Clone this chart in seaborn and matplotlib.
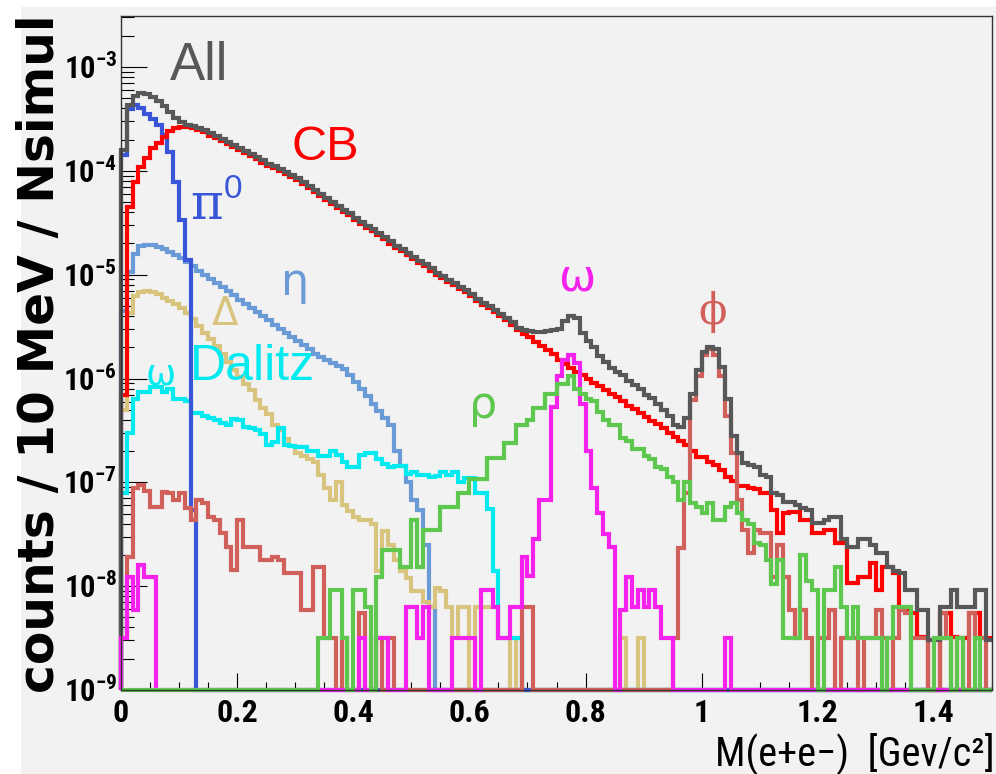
import numpy as np
import pandas as pd
import matplotlib
matplotlib.use("Agg")
import matplotlib.pyplot as plt
import seaborn as sns
from matplotlib import font_manager as fm
from matplotlib.ticker import LogLocator, MultipleLocator, NullFormatter
from matplotlib.patches import Rectangle

N = np.nan
BIN_WIDTH = 0.01
N_BINS = 150
X_MAX = 1.5
Y_MIN, Y_MAX = 1e-9, 3.1e-3

# ---- data: log10(counts / 10 MeV / Nsimul) per 10 MeV bin, NaN = empty bin ----
all_start = 0
all_log = [
    -3.80, -3.37, -3.28, -3.25, -3.26, -3.29, -3.33, -3.38, -3.43, -3.49,
    -3.53, -3.56, -3.57, -3.59, -3.61, -3.64, -3.66, -3.69, -3.72, -3.75,
    -3.78, -3.81, -3.84, -3.87, -3.90, -3.93, -3.95, -3.98, -4.01, -4.04,
    -4.07, -4.11, -4.15, -4.18, -4.22, -4.26, -4.30, -4.34, -4.38, -4.41,
    -4.45, -4.49, -4.53, -4.56, -4.60, -4.64, -4.68, -4.72, -4.75, -4.79,
    -4.83, -4.87, -4.90, -4.94, -4.98, -5.01, -5.05, -5.08, -5.12, -5.15,
    -5.19, -5.23, -5.27, -5.30, -5.34, -5.38, -5.42, -5.46, -5.51, -5.53,
    -5.54, -5.55, -5.55, -5.54, -5.53, -5.52, -5.45, -5.40, -5.42, -5.56,
    -5.64, -5.70, -5.78, -5.84, -5.90, -5.94, -5.97, -6.02, -6.06, -6.10,
    -6.16, -6.19, -6.25, -6.30, -6.36, -6.45, -6.47, -6.38, -6.15, -5.92,
    -5.74, -5.70, -5.72, -5.89, -6.20, -6.55, -6.72, -6.81, -6.83, -6.85,
    -6.93, -6.95, -7.10, -7.12, -7.19, -7.19, -7.22, -7.25, -7.27, -7.39,
    -7.39, -7.36, -7.33, -7.33, -7.55, -7.62, -7.62, -7.55, -7.55, -7.60,
    -7.68, -7.68, -7.82, -7.85, -7.87, -8.04, -8.04, -8.23, -8.23, -8.52,
    -8.52, -8.20, -8.20, -8.04, -8.20, -8.20, -8.20, -8.04, -8.04, -8.52,
]
cb_start = 0
cb_log = [
    -6.16, -4.35, -4.11, -3.96, -3.88, -3.78, -3.73, -3.67, -3.62, -3.59,
    -3.58, -3.58, -3.59, -3.61, -3.63, -3.66, -3.68, -3.71, -3.74, -3.77,
    -3.80, -3.83, -3.86, -3.89, -3.92, -3.95, -3.97, -4.00, -4.03, -4.06,
    -4.09, -4.13, -4.17, -4.20, -4.24, -4.28, -4.32, -4.36, -4.40, -4.43,
    -4.47, -4.51, -4.55, -4.58, -4.62, -4.66, -4.70, -4.74, -4.77, -4.81,
    -4.85, -4.89, -4.92, -4.96, -5.00, -5.03, -5.07, -5.10, -5.14, -5.17,
    -5.21, -5.25, -5.29, -5.32, -5.36, -5.40, -5.44, -5.48, -5.53, -5.57,
    -5.60, -5.65, -5.69, -5.73, -5.76, -5.82, -5.86, -5.90, -5.94, -5.97,
    -6.00, -6.04, -6.07, -6.11, -6.15, -6.18, -6.22, -6.26, -6.29, -6.33,
    -6.37, -6.41, -6.44, -6.48, -6.52, -6.56, -6.60, -6.64, -6.70, -6.76,
    -6.76, -6.80, -6.83, -6.88, -6.95, -6.99, -7.04, -7.04, -7.05, -7.06,
    -7.10, -7.10, -7.27, -7.49, -7.30, -7.29, -7.29, -7.36, -7.36, -7.49,
    -7.49, -7.46, -7.46, -7.58, -7.58, -7.97, -7.97, -7.91, -7.91, -7.78,
    -8.04, -7.82, -7.82, -7.87, -8.23, -8.23, -8.26, -8.49, -8.49, N,
    N, -8.26, -8.26, -8.49, -8.50, -8.50, -8.26, -8.26, -8.50, -8.50,
]
pi0_start = 0
pi0_log = [-3.85, -3.40, -3.37, -3.39, -3.45, -3.50, -3.56, -3.65, -3.82, -4.11,
           -4.47, -4.86, -7.27]
eta_start = 0
eta_log = [
    -5.35, -4.97, -4.80, -4.72, -4.71, -4.71, -4.73, -4.75, -4.78, -4.81,
    -4.84, -4.88, -4.92, -4.96, -5.00, -5.04, -5.08, -5.12, -5.16, -5.20,
    -5.24, -5.28, -5.32, -5.36, -5.40, -5.44, -5.48, -5.52, -5.56, -5.60,
    -5.64, -5.68, -5.72, -5.76, -5.79, -5.82, -5.85, -5.88, -5.91, -5.97,
    -6.03, -6.10, -6.17, -6.25, -6.31, -6.38, -6.45, -6.70, -6.84, -7.00,
    -7.17, -7.27, -7.60, -8.20,
]
delta_start = 0
delta_log = [
    -6.30, -5.37, -5.21, -5.17, -5.16, -5.17, -5.19, -5.22, -5.25, -5.28,
    -5.32, -5.37, -5.43, -5.49, -5.56, -5.62, -5.69, -5.76, -5.84, -5.92,
    -5.99, -6.05, -6.11, -6.21, -6.28, -6.34, -6.45, -6.50, -6.58, -6.65,
    -6.72, -6.75, -6.78, -6.80, -6.93, -7.05, -7.17, -7.00, -7.22, -7.28,
    -7.33, -7.36, -7.36, -7.40, -7.85, -7.47, -7.60, -7.75, -7.85, -7.92,
    -8.05, -8.05, -8.15, -8.20, -8.02, -8.05, -8.20, -8.50, -8.20, -8.20,
    N, -8.20, -8.20, -8.20, -8.20, -8.50, -8.50, N, -8.50, N,
    N, N, N, N, N, N, N, N, N, N,
    N, N, N, N, N, N, -8.50, N, N, -8.50,
]
omega_dalitz_start = 0
omega_dalitz_log = [
    -7.10, -6.52, -6.20, -6.13, -6.13, -6.08, -6.08, -6.13, -6.10, -6.20,
    -6.20, -6.22, -6.33, -6.33, -6.36, -6.38, -6.40, -6.43, -6.45, -6.39,
    -6.40, -6.47, -6.48, -6.50, -6.53, -6.64, -6.61, -6.48, -6.64, -6.65,
    -6.66, -6.66, -6.70, -6.70, -6.75, -6.75, -6.70, -6.74, -6.80, -6.85,
    -6.85, -6.74, -6.72, -6.72, -6.78, -6.82, -6.85, -6.84, -6.84, -6.92,
    -6.90, -6.93, -6.93, -6.95, -6.94, -6.90, -6.93, -6.90, -7.00, -6.96,
    -6.96, -7.10, -7.10, -7.26, -7.85, -8.50, -8.50, -8.50, -8.50,
]
phi_start = 0
phi_log = [
    -8.50, -7.72, -7.05, -7.03, -7.08, -7.24, -7.24, -7.09, -7.10, -7.17,
    -7.10, -7.25, -7.36, -7.17, -7.20, -7.33, -7.36, -7.49, -7.62, -7.84,
    -7.36, -7.62, -7.62, -7.62, -7.75, -7.75, -7.72, -7.75, -7.87, -7.87,
    -7.87, -8.23, -8.23, -7.82, -7.82, -8.50, -8.50, N, -8.50, N,
    N, -8.26, N, N, -8.50, N, -8.50, N, N, N,
    N, N, N, N, N, N, N, N, N, N,
    N, N, N, N, N, N, N, N, N, -8.20,
    -8.20, N, N, N, N, N, N, N, N, N,
    N, N, N, N, N, N, N, N, N, N,
    N, N, N, N, N, -8.50, -7.63, -7.10, -6.21, -5.98,
    -5.77, -5.72, -5.77, -5.98, -6.36, -6.72, -7.17, -7.46, -7.68, -7.46,
    -7.49, -7.49, -7.91, -7.60, -7.91, -8.23, -8.50, -8.23, -8.50, N,
    -8.50, -8.50, -8.23, N, -8.50, -8.50, -8.50, N, -8.50, -8.50,
    -8.23, -8.50, N, -8.50, -8.23, -8.26, -8.50, -8.50, -8.50, N,
    N, -8.26, -8.50, N, -8.50, N, -8.26, -8.50, -8.50, N,
]
omega_start = 0
omega_log = [
    -8.50, -7.91, -8.23, -7.80, -7.91, -7.91, N, N, N, N,
    N, N, N, N, N, N, N, N, N, N,
    N, N, N, N, N, N, N, N, N, N,
    N, N, N, N, N, N, N, N, N, N,
    N, -8.50, N, N, -8.50, -8.50, N, N, N, -8.20,
    -8.20, -8.50, -8.20, N, N, N, N, -8.50, -8.50, -8.50,
    -8.50, N, -8.04, -8.04, -8.20, -8.50, -8.50, -8.20, -8.20, -7.72,
    -7.90, -7.55, -7.17, -7.17, -6.27, -5.98, -5.82, -5.77, -5.85, -6.25,
    -6.70, -7.05, -7.30, -7.50, -7.62, N, -8.23, -7.91, -8.20, -8.04,
    -8.20, -8.04, -8.20, -8.50, -8.50, N, N, N, N, N,
    N, N, N, N, -8.50,
]
rho_start = 34
rho_log = [
    -8.50, -8.50, -8.04, -8.04, -8.50, N,
    -8.04, -8.04, -8.20, N, -7.91, -7.65, -7.65, -7.65, -7.82, -7.82,
    -7.36, -7.82, -7.46, -7.46, -7.46, -7.24, -7.24, -7.24, -7.10, -7.10,
    -6.97, -6.97, -6.97, -6.77, -6.77, -6.77, -6.62, -6.62, -6.45, -6.45,
    -6.40, -6.28, -6.28, -6.15, -6.15, -6.05, -6.05, -5.98, -6.10, -6.15,
    -6.20, -6.22, -6.32, -6.40, -6.45, -6.45, -6.57, -6.60, -6.68, -6.68,
    -6.75, -6.78, -6.85, -6.87, -6.95, -7.00, -7.17, -7.00, -7.20, -7.24,
    -7.30, -7.20, -7.36, -7.36, -7.24, -7.20, -7.30, -7.36, -7.40, -7.58,
    -7.60, -7.75, -7.98, -7.75, -8.50, -8.50, -8.50, -7.70, -7.95, -8.04,
    N, -8.04, -8.04, -7.82, -8.20, -8.50, -8.20, -8.50, -8.50, -8.50,
    -8.50, N, -8.50, -8.20, -8.20, -8.20, N, N, N, N,
    -8.50, -8.50, -8.50, N, -8.50, N, N, -8.50, N, N,
]

series = {
    "eta": (eta_start, eta_log),
    "Delta": (delta_start, delta_log),
    "omega Dalitz": (omega_dalitz_start, omega_dalitz_log),
    "pi0": (pi0_start, pi0_log),
    "CB": (cb_start, cb_log),
    "phi": (phi_start, phi_log),
    "All": (all_start, all_log),
    "omega": (omega_start, omega_log),
    "rho": (rho_start, rho_log),
}
colors = {
    "All": "#585858",
    "CB": "#ff0000",
    "pi0": "#3a56d8",
    "eta": "#6b9bd6",
    "Delta": "#d8c47e",
    "omega Dalitz": "#00eaf0",
    "phi": "#d2605a",
    "omega": "#f522ee",
    "rho": "#5ec84e",
}
draw_order = list(series.keys())

# ---- fonts ----
def pick(fams):
    for f in fams:
        try:
            fm.findfont(fm.FontProperties(family=f), fallback_to_default=False)
            return f
        except Exception:
            pass
    return "DejaVu Sans"

narrow = pick(["Liberation Sans Narrow", "Roboto Condensed", "Liberation Sans"])
sans = pick(["Liberation Sans", "Arial", "DejaVu Sans"])
serif = pick(["DejaVu Serif", "Liberation Serif"])

plt.rcParams["mathtext.fontset"] = "custom"
plt.rcParams["mathtext.rm"] = narrow
plt.rcParams["mathtext.bf"] = narrow + ":bold"
plt.rcParams["font.family"] = [sans, "DejaVu Sans"]

# ---- long-form table of step histograms ----
edges = np.arange(N_BINS + 1) * BIN_WIDTH
rows = []
for name, (start, vals) in series.items():
    arr = np.full(N_BINS, np.nan)
    arr[start:start + len(vals)] = vals
    y = np.where(np.isnan(arr), Y_MIN, 10.0 ** arr)
    xs = np.concatenate([[edges[0]], edges[:-1], [edges[-1]]])
    ys = np.concatenate([[Y_MIN], y, [y[-1]]])
    for xv, yv in zip(xs, ys):
        rows.append((name, xv, yv))
df = pd.DataFrame(rows, columns=["name", "mass", "value"])

W, H = 996, 774
BG = "#f2f2f2"
fig = plt.figure(figsize=(W / 100, H / 100), dpi=100, facecolor=BG)
ax = fig.add_axes([121 / W, 1 - 690 / H, (992 - 121) / W, (690 - 16) / H])
ax.set_facecolor(BG)

sns.lineplot(data=df, x="mass", y="value", hue="name", hue_order=draw_order,
             palette=colors, estimator=None, sort=False, legend=False,
             drawstyle="steps-post", linewidth=3.0, clip_on=False,
             solid_joinstyle="miter", solid_capstyle="butt", ax=ax)

ax.set_yscale("log")
ax.set_xlim(0, X_MAX)
ax.set_ylim(Y_MIN, Y_MAX)
ax.set_xlabel("")
ax.set_ylabel("")

for sp in ax.spines.values():
    sp.set_color("#333333")
    sp.set_linewidth(1.0)

ydec = [-9, -8, -7, -6, -5, -4, -3]
ax.set_yticks([10.0 ** d for d in ydec],
              labels=[r"$\mathbf{10^{%d}}$" % d for d in ydec])
ax.yaxis.set_minor_locator(LogLocator(base=10, subs=np.arange(2, 10) * 1.0, numticks=100))
ax.yaxis.set_minor_formatter(NullFormatter())
xt = [0, 0.2, 0.4, 0.6, 0.8, 1.0, 1.2, 1.4]
ax.set_xticks(xt, labels=["0", "0.2", "0.4", "0.6", "0.8", "1", "1.2", "1.4"])
ax.xaxis.set_minor_locator(MultipleLocator(0.05))

ax.tick_params(axis="both", which="both", direction="in", top=False, right=False,
               color="black", width=0.8)
ax.tick_params(axis="y", which="major", length=19, pad=3, labelsize=22)
ax.tick_params(axis="y", which="minor", length=9.5)
ax.tick_params(axis="x", which="major", length=12, pad=6, labelsize=23)
ax.tick_params(axis="x", which="minor", length=6)
for lab_ in ax.get_xticklabels():
    lab_.set_fontfamily([narrow, "DejaVu Sans"])
    lab_.set_fontweight("bold")

# ---- axis titles ----
fig.text(64 / W, 1 - 14 / H, "counts / 10 MeV / Nsimul", rotation=90, ha="right",
         va="top", fontsize=35, fontweight="bold", family=["DejaVu Sans"])
fig.text(995 / W, 1 - 766 / H, "M(e+e\u2212)  [Gev/c\u00b2]", ha="right", va="baseline",
         fontsize=29, family=[narrow, "DejaVu Sans"])

# ---- curve labels ----
def lab(xp, yp, s, color, size, fam, **kw):
    fig.text(xp / W, 1 - yp / H, s, color=color, fontsize=size, ha="center",
             va="center", family=[fam, "DejaVu Sans"], **kw)

lab(199, 66, "All", colors["All"], 38, sans)
lab(325, 148, "CB", colors["CB"], 35, sans)
lab(207, 205, "\u03c0", colors["pi0"], 36, serif)
lab(233, 189, "0", colors["pi0"], 24, sans)
lab(295, 282, "\u03b7", colors["eta"], 32, "DejaVu Sans")
lab(225, 314, "\u0394", colors["Delta"], 28, "DejaVu Sans")
lab(161, 374, "\u03c9", colors["omega Dalitz"], 26, "DejaVu Sans")
lab(252, 367, "Dalitz", colors["omega Dalitz"], 36, sans)
lab(483, 405, "\u03c1", colors["rho"], 32, "DejaVu Sans")
lab(577, 278, "\u03c9", colors["omega"], 32, "DejaVu Sans")
lab(713, 312, "\u03d5", colors["phi"], 30, serif)

# frame details of the original picture
fig.patches.append(Rectangle((0, 1 - 7 / H), 1, 7 / H, transform=fig.transFigure,
                             facecolor="white", edgecolor="none", zorder=-5))
fig.patches.append(Rectangle((0, 0), 21 / W, 1, transform=fig.transFigure,
                             facecolor="white", edgecolor="none", zorder=-5))

fig.savefig("out.png", dpi=100, facecolor=BG)
